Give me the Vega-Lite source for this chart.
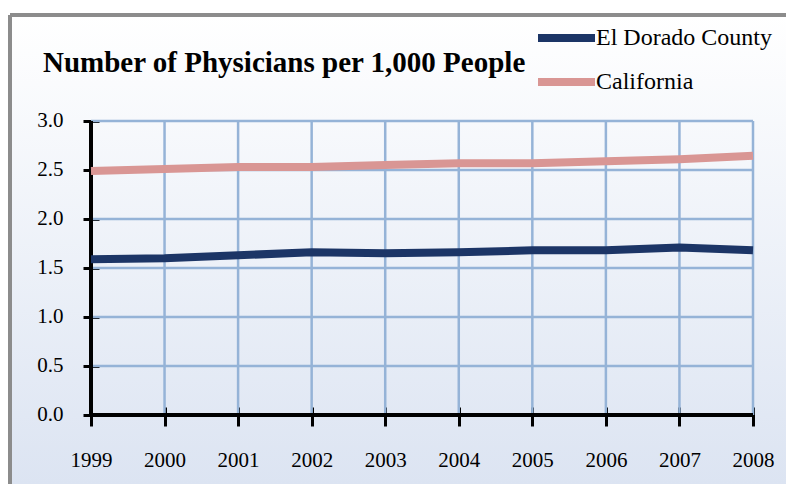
{
  "$schema": "https://vega.github.io/schema/vega-lite/v6.json",
  "width": 776,
  "height": 469,
  "autosize": {"type": "none"},
  "padding": {"left": 10, "top": 15, "right": 0, "bottom": 0},
  "background": "#ffffff",
  "title": {
    "text": "Number of Physicians per 1,000 People",
    "anchor": "start",
    "frame": "group",
    "dx": 33,
    "dy": 87,
    "offset": 0,
    "baseline": "alphabetic",
    "font": "Liberation Serif",
    "fontSize": 29,
    "fontWeight": "bold",
    "color": "#000000"
  },
  "datasets": {
    "series": [
      {"year": 1999, "region": "El Dorado County", "value": 1.59},
      {"year": 2000, "region": "El Dorado County", "value": 1.60},
      {"year": 2001, "region": "El Dorado County", "value": 1.63},
      {"year": 2002, "region": "El Dorado County", "value": 1.66},
      {"year": 2003, "region": "El Dorado County", "value": 1.65},
      {"year": 2004, "region": "El Dorado County", "value": 1.66},
      {"year": 2005, "region": "El Dorado County", "value": 1.68},
      {"year": 2006, "region": "El Dorado County", "value": 1.68},
      {"year": 2007, "region": "El Dorado County", "value": 1.71},
      {"year": 2008, "region": "El Dorado County", "value": 1.68},
      {"year": 1999, "region": "California", "value": 2.49},
      {"year": 2000, "region": "California", "value": 2.51},
      {"year": 2001, "region": "California", "value": 2.53},
      {"year": 2002, "region": "California", "value": 2.53},
      {"year": 2003, "region": "California", "value": 2.55},
      {"year": 2004, "region": "California", "value": 2.57},
      {"year": 2005, "region": "California", "value": 2.57},
      {"year": 2006, "region": "California", "value": 2.59},
      {"year": 2007, "region": "California", "value": 2.61},
      {"year": 2008, "region": "California", "value": 2.645}
    ],
    "years": [
      {"year": 1999}, {"year": 2000}, {"year": 2001}, {"year": 2002}, {"year": 2003},
      {"year": 2004}, {"year": 2005}, {"year": 2006}, {"year": 2007}, {"year": 2008}
    ],
    "levels": [
      {"level": 0}, {"level": 0.5}, {"level": 1}, {"level": 1.5}, {"level": 2}, {"level": 2.5}, {"level": 3}
    ]
  },
  "layer": [
    {
      "data": {"name": "years"},
      "mark": {"type": "rule", "color": "#95b3d7", "strokeWidth": 2.5},
      "encoding": {
        "x": {"field": "year", "type": "quantitative"},
        "y": {"datum": 0},
        "y2": {"datum": 3}
      }
    },
    {
      "data": {"name": "levels"},
      "mark": {"type": "rule", "color": "#95b3d7", "strokeWidth": 2.5},
      "encoding": {
        "y": {"field": "level", "type": "quantitative"},
        "x": {"datum": 1999},
        "x2": {"datum": 2008}
      }
    },
    {
      "data": {"name": "years"},
      "mark": {"type": "rule", "color": "#000000", "strokeWidth": 3},
      "encoding": {
        "y": {"datum": 0},
        "x": {"datum": 1999},
        "x2": {"datum": 2008}
      }
    },
    {
      "data": {"name": "years"},
      "mark": {"type": "rule", "color": "#000000", "strokeWidth": 3},
      "encoding": {
        "x": {"datum": 1999},
        "y": {"datum": 0},
        "y2": {"datum": 3}
      }
    },
    {
      "data": {"name": "years"},
      "mark": {"type": "rule", "color": "#8c8c8c", "strokeWidth": 3},
      "encoding": {
        "y": {"datum": 4.0816},
        "x": {"datum": 1997.899},
        "x2": {"datum": 2008.4486}
      }
    },
    {
      "data": {"name": "years"},
      "mark": {"type": "rule", "color": "#8c8c8c", "strokeWidth": 3},
      "encoding": {
        "x": {"datum": 1997.899},
        "y": {"datum": -0.7041},
        "y2": {"datum": 4.0816}
      }
    },
    {
      "data": {"name": "series"},
      "mark": {"type": "line", "strokeWidth": 8, "strokeJoin": "round"},
      "encoding": {
        "x": {
          "field": "year",
          "type": "quantitative",
          "scale": {"domain": [1997.899, 2008.4486], "nice": false, "zero": false},
          "axis": {
            "title": null,
            "values": [1999, 2000, 2001, 2002, 2003, 2004, 2005, 2006, 2007, 2008],
            "format": "d",
            "labelFont": "Liberation Serif",
            "labelFontSize": 21,
            "labelColor": "#000000",
            "labelPadding": 23,
            "labelFlush": false,
            "labelOverlap": false,
            "offset": -77,
            "domain": false,
            "grid": false,
            "tickColor": "#000000",
            "tickWidth": 3,
            "tickSize": 19
          }
        },
        "y": {
          "field": "value",
          "type": "quantitative",
          "scale": {"domain": [-0.7041, 4.0816], "nice": false, "zero": false},
          "axis": {
            "title": null,
            "values": [0, 0.5, 1, 1.5, 2, 2.5, 3],
            "format": ".1f",
            "labelFont": "Liberation Serif",
            "labelFontSize": 21,
            "labelColor": "#000000",
            "labelPadding": 20,
            "labelFlush": false,
            "labelOverlap": false,
            "offset": -89,
            "domain": false,
            "grid": false,
            "tickColor": "#000000",
            "tickWidth": 3,
            "tickSize": 16
          }
        },
        "color": {
          "field": "region",
          "type": "nominal",
          "scale": {"domain": ["El Dorado County", "California"], "range": ["#1c3566", "#d99694"]},
          "legend": {
            "title": null,
            "orient": "none",
            "legendX": 524,
            "legendY": 11,
            "padding": 0,
            "symbolType": "stroke",
            "symbolSize": 3249,
            "symbolStrokeWidth": 8,
            "labelFont": "Liberation Serif",
            "labelFontSize": 24,
            "labelColor": "#000000",
            "labelOffset": -3,
            "labelLimit": 400,
            "clipHeight": 24,
            "rowPadding": 20
          }
        }
      }
    }
  ],
  "config": {
    "view": {
      "stroke": null,
      "fill": {
        "gradient": "linear",
        "x1": 0, "y1": 0, "x2": 0, "y2": 1,
        "stops": [
          {"offset": 0, "color": "#ffffff"},
          {"offset": 1, "color": "#dce4f2"}
        ]
      }
    }
  }
}
